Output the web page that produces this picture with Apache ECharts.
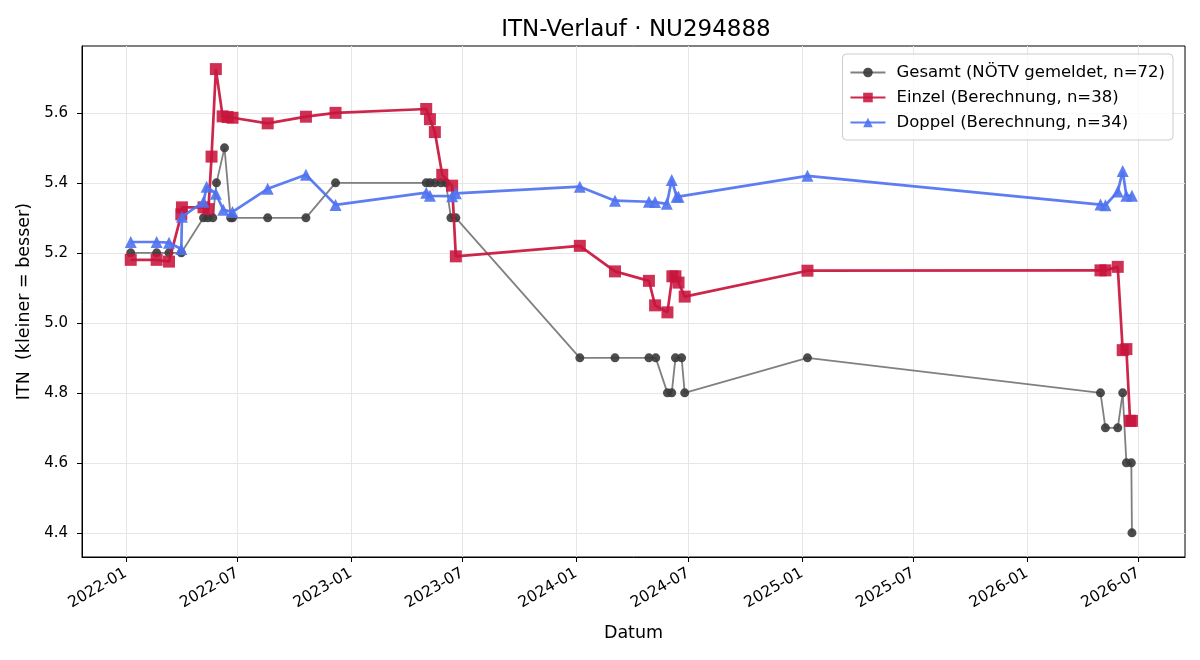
<!DOCTYPE html>
<html>
<head>
<meta charset="utf-8">
<title>ITN-Verlauf</title>
<script src="https://cdn.jsdelivr.net/npm/echarts@6/dist/echarts.min.js"></script>
<style>
  html, body { margin: 0; padding: 0; background: #fff; }
  #box { width: 1200px; height: 660px; }
</style>
</head>
<body>
<div id="box"></div>
<script>
// Gesamt (NÖTV gemeldet)
var gesamtDates = ['2022-01-09','2022-02-20','2022-03-12','2022-04-01','2022-05-07','2022-05-14','2022-05-22','2022-05-28','2022-06-10','2022-06-20','2022-06-23','2022-08-19','2022-10-20','2022-12-07','2023-05-03','2023-05-09','2023-05-17','2023-05-27','2023-06-04','2023-06-12','2023-06-20','2024-01-07','2024-03-04','2024-04-28','2024-05-09','2024-05-28','2024-06-04','2024-06-10','2024-06-20','2024-06-25','2025-01-10','2026-04-30','2026-05-08','2026-05-28','2026-06-05','2026-06-11','2026-06-19','2026-06-20'];
var gesamtValues = [5.2,5.2,5.2,5.2,5.3,5.3,5.3,5.4,5.5,5.3,5.3,5.3,5.3,5.4,5.4,5.4,5.4,5.4,5.4,5.3,5.3,4.9,4.9,4.9,4.9,4.8,4.8,4.9,4.9,4.8,4.9,4.8,4.7,4.7,4.8,4.6,4.6,4.4];

// Einzel (Berechnung)
var einzelDates = ['2022-01-09','2022-02-20','2022-03-12','2022-04-01','2022-04-02','2022-05-07','2022-05-15','2022-05-20','2022-05-27','2022-06-07','2022-06-15','2022-06-23','2022-08-19','2022-10-20','2022-12-07','2023-05-03','2023-05-09','2023-05-17','2023-05-29','2023-06-14','2023-06-20','2024-01-07','2024-03-04','2024-04-28','2024-05-08','2024-05-28','2024-06-05','2024-06-10','2024-06-15','2024-06-25','2025-01-10','2026-04-30','2026-05-08','2026-05-28','2026-06-05','2026-06-11','2026-06-17','2026-06-20'];
var einzelValues = [5.18,5.18,5.175,5.31,5.33,5.33,5.325,5.475,5.725,5.59,5.588,5.586,5.57,5.589,5.6,5.611,5.582,5.545,5.423,5.392,5.19,5.22,5.147,5.12,5.05,5.03,5.133,5.133,5.115,5.075,5.149,5.15,5.15,5.16,4.922,4.925,4.72,4.72];

// Doppel (Berechnung)
var doppelDates = ['2022-01-09','2022-02-20','2022-03-12','2022-04-01','2022-04-02','2022-05-07','2022-05-12','2022-05-27','2022-06-08','2022-06-23','2022-08-19','2022-10-20','2022-12-07','2023-05-03','2023-05-09','2023-06-14','2023-06-20','2024-01-07','2024-03-04','2024-04-28','2024-05-08','2024-05-27','2024-06-04','2024-06-12','2024-06-15','2025-01-10','2026-04-30','2026-05-08','2026-05-28','2026-06-05','2026-06-11','2026-06-20'];
var doppelValues = [5.231,5.231,5.229,5.211,5.303,5.346,5.389,5.369,5.323,5.317,5.383,5.423,5.337,5.372,5.363,5.362,5.37,5.389,5.349,5.346,5.345,5.34,5.408,5.36,5.36,5.42,5.338,5.336,5.375,5.434,5.363,5.363];

// Achsen
var xTickLabels = ['2022-01','2022-07','2023-01','2023-07','2024-01','2024-07','2025-01','2025-07','2026-01','2026-07'];
var yTicks = [4.4, 4.6, 4.8, 5.0, 5.2, 5.4, 5.6];

function ts(s) {
    var p = s.split('-');
    return new Date(+p[0], +p[1] - 1, p[2] ? +p[2] : 1).getTime();
}
function pairs(dates, vals) {
    return dates.map(function (d, i) { return [ts(d), vals[i]]; });
}
var xTicks = xTickLabels.map(ts);
var FONT = 'DejaVu Sans';

var myChart = echarts.init(document.getElementById('box'), null, { renderer: 'canvas' });
var option = {
    animation: false,
    backgroundColor: '#fff',
    textStyle: { fontFamily: FONT, color: '#000' },
    title: {
        text: 'ITN-Verlauf · NU294888',
        left: 631,
        textAlign: 'center',
        top: 14,
        textStyle: { fontFamily: FONT, fontSize: 23, fontWeight: 'normal', color: '#000' }
    },
    legend: {
        orient: 'vertical',
        right: 27,
        top: 54,
        itemWidth: 35,
        itemHeight: 12,
        itemGap: 8,
        padding: [10, 8, 9, 7],
        borderColor: '#ccc',
        borderWidth: 1,
        borderRadius: 4,
        backgroundColor: 'rgba(255,255,255,0.8)',
        textStyle: { fontFamily: FONT, fontSize: 16.5, color: '#000', padding: [0, 0, 0, 6] },
        data: ['Gesamt (NÖTV gemeldet, n=72)', 'Einzel (Berechnung, n=38)', 'Doppel (Berechnung, n=34)']
    },
    grid: {
        left: 82, right: 15, top: 46, bottom: 103,
        show: true, borderColor: '#000', borderWidth: 1, backgroundColor: 'transparent'
    },
    xAxis: {
        type: 'value',
        min: ts('2021-10-22'),
        max: ts('2026-09-14'),
        name: 'Datum',
        nameLocation: 'middle',
        nameGap: 67,
        nameTextStyle: { fontFamily: FONT, fontSize: 17.5, color: '#000' },
        axisLine: { show: true, onZero: false, lineStyle: { color: '#000', width: 1 } },
        axisTick: { show: true, length: 5, lineStyle: { color: '#000' }, customValues: xTicks },
        axisLabel: {
            customValues: xTicks,
            rotate: 30,
            margin: 15,
            fontFamily: FONT, fontSize: 15.5, color: '#000',
            formatter: function (v) {
                var d = new Date(v);
                var m = d.getMonth() + 1;
                return d.getFullYear() + '-' + (m < 10 ? '0' + m : m);
            }
        },
        splitLine: { show: true, lineStyle: { color: '#e6e6e6', width: 1 } }
    },
    yAxis: {
        type: 'value',
        min: 4.331,
        max: 5.791,
        name: 'ITN  (kleiner = besser)',
        nameLocation: 'middle',
        nameGap: 48,
        nameTextStyle: { fontFamily: FONT, fontSize: 17.5, color: '#000' },
        axisLine: { show: true, lineStyle: { color: '#000', width: 1 } },
        axisTick: { show: true, length: 5, lineStyle: { color: '#000' }, customValues: yTicks },
        axisLabel: {
            customValues: yTicks,
            margin: 14,
            fontFamily: FONT, fontSize: 15, color: '#000',
            formatter: function (v) { return v.toFixed(1); }
        },
        splitLine: { show: true, lineStyle: { color: '#e6e6e6', width: 1 } }
    },
    series: [
        {
            name: 'Gesamt (NÖTV gemeldet, n=72)',
            type: 'line',
            data: pairs(gesamtDates, gesamtValues),
            symbol: 'circle',
            symbolSize: 9,
            showAllSymbol: true,
            lineStyle: { color: '#555', width: 1.8, opacity: 0.75 },
            itemStyle: { color: '#3a3a3a', opacity: 0.9 },
            z: 2
        },
        {
            name: 'Einzel (Berechnung, n=38)',
            type: 'line',
            data: pairs(einzelDates, einzelValues),
            symbol: 'rect',
            symbolSize: 12,
            showAllSymbol: true,
            lineStyle: { color: '#c8143c', width: 2.7, opacity: 0.92 },
            itemStyle: { color: '#c8143c', opacity: 0.88 },
            z: 3
        },
        {
            name: 'Doppel (Berechnung, n=34)',
            type: 'line',
            data: pairs(doppelDates, doppelValues),
            symbol: 'triangle',
            symbolSize: 12,
            showAllSymbol: true,
            lineStyle: { color: '#4f72f0', width: 2.7, opacity: 0.92 },
            itemStyle: { color: '#4f72f0', opacity: 0.9 },
            z: 4
        }
    ]
};
myChart.setOption(option);
</script>
</body>
</html>
